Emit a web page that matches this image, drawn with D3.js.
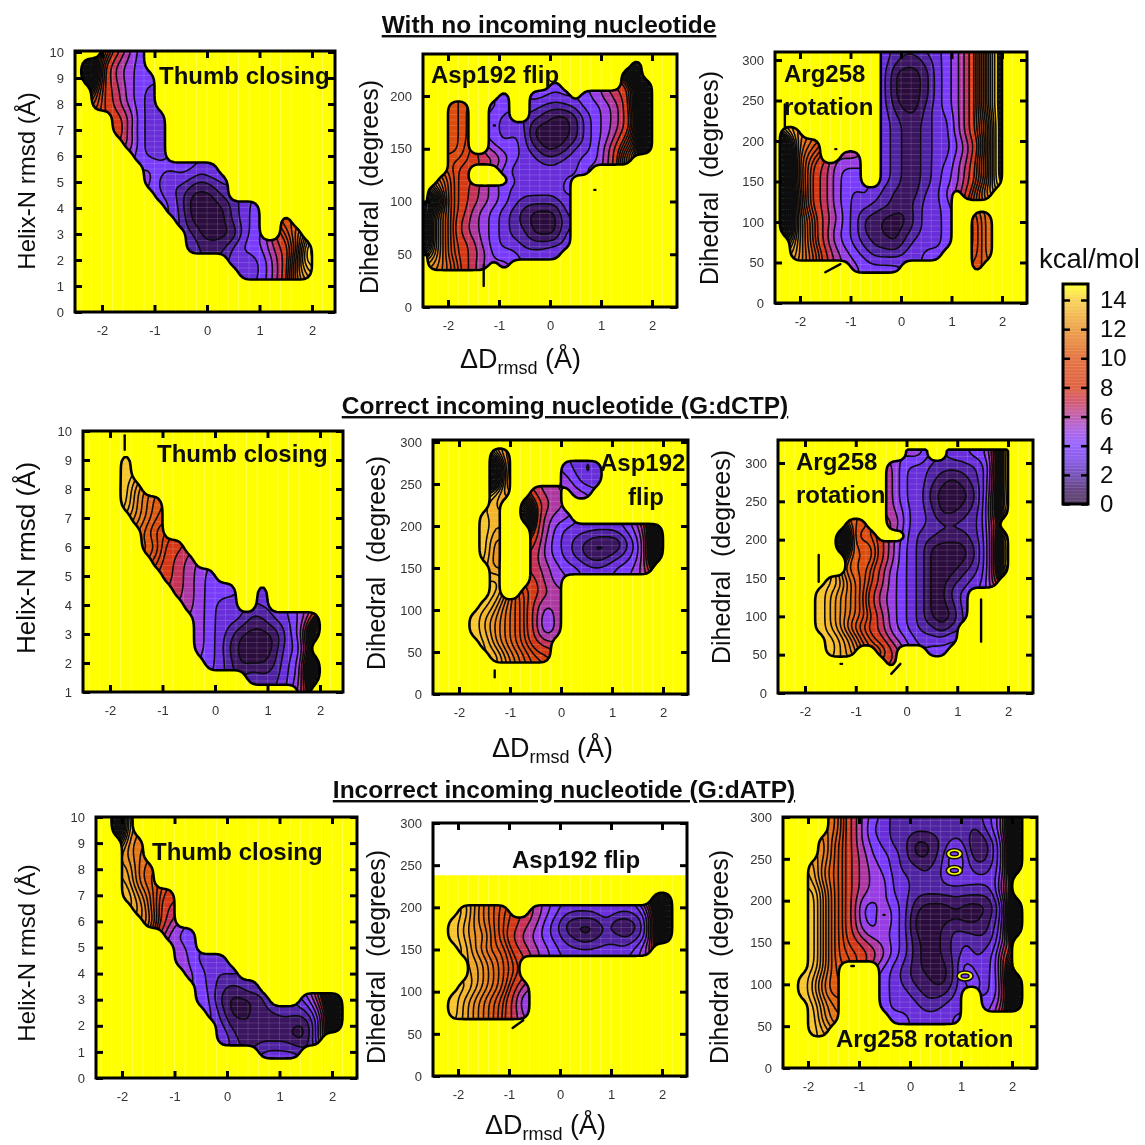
<!DOCTYPE html>
<html>
<head>
<meta charset="utf-8">
<script src="https://cdn.jsdelivr.net/npm/d3@7"></script>
<style>
  html, body { margin: 0; background: #fff; }
  text { font-family: "Liberation Sans", Arial, sans-serif; fill: #111; }
  .tick text { font-size: 13px; fill: #333; }
</style>
</head>
<body>
<script>
// free energy in kcal/mol, one string per row, top row first
// . = not sampled, 0-9 then a-f = 10-15, k = off the key (contours pile up to solid black)
// columns run from x = -2.5 in 0.2 steps
const thumbNone = ["...a864", ".kb8654", ".kb86544", "..a87543", "..a87543", "....87433", "....96433", ".....7433", "......433",
  ".......5444434", ".......53232123", "........4320002", ".........420000234", "..........30000234..a", "...........2000034..9b",
  "...........3111344578af", "...............333468bf", "................33468cd", "", "", ""];
const aspNone = ["", ".....................k", "....................ak", ".............4......8bk", "........4..4434.45678bk",
  "...a9..54..3222344568bk", "...a9..43..2100134568ak", "...a9..43330000134568ak", "...a9..43430000134579bk",
  "...a9..5443200133468ack", "...99877543322334468c", "...98...432333335", "..b98....433324", ".db987654333334",
  ".kb987654322223", "kdb986543210003", "kdb976543210002", "kdb976543220003", "kdb987543322223", ".db98764443334",
  ".cba875.5", "", "", "", ""];
const argNone = ["...........3222334579cf", "...........3211234579cf", "...........3000134579cf", "...........3000134579cf",
  "...........3000134579cf", "...........3100234579cf", "...........3211233579bf", ".dc........3211233579bf",
  ".kcba......3211233468bf", ".kca9..66..3211233569bf", ".kca87544..3211234579bf", ".kca87544..3211234579bf",
  ".kda87543432111335.8ad", ".kda87543322112334", ".kdb97643110002334..9b", ".kdb97543110012334..9b",
  "..db97543211023334..9b", "..dba865432223344...9b", "........54444.......a", "", "", ""];
const thumbCorrect = ["", "", "....e", "....e", "....ec", "....ecba", ".....cba", "......a9", "......ba88", ".......9876",
  "........87654", ".........765444..3", "..........65433..3", "...........543331133458", "...........54320000246k",
  "...........54310000335", "............4320001346k", "................322346k", ".....................7"];
const aspCorrect = ["", "......db", "......kb.....4323", "......kb.....5423", "......dc..766.55", "......d..c976", ".....ed..k8655",
  ".....ed...864333333457k", ".....ec...854321000247k", ".....ec...754321012347k", "......c...765443334457", "......e...865",
  "......e..9876", ".....edba9756", "....edcba9746", "....edcba9746", ".....ecba987", "......ecba99", "", "", ""];
const argCorrect = [".............55..33446f", "...........64332222235f", "...........64332101236f", "...........64331000136f",
  "...........64331000137f", "...........65332001237f", ".......aa..75332222237", "......ka99...322111236f",
  "......kaaa864320000136f", ".......aaa864320000136f", ".......aa9754320001236f", ".....edba9754320012337",
  "....edcba8654320023", "....edcba8654320013", "....edcba9754320003", "....edca9875432202", ".....edca986543334",
  ".....edc..a8...44", "...........7", "", ""];
const thumbWrong = ["..kc", "..kc", "...cb", "...cb", "...dba", "...dba", "...ecb98", "....db97", ".....c97", ".......544", "........54",
  "........64334", ".........54323", "..........432123", "..........5310002...46bk", "...........420011222248k",
  "............31101010038k", "............4211111004", "................3333", "", ""];
const aspWrong = ["", "......................dk", "...ecba9..754333343334bk", "..edcba987643100020013bk", "..edcca976543210122123bk",
  "...ecbaa87654333333346", "....dcba9", "....dcba9", "...edcba86", "..edcba974", "..edcba975", "", "", "", "", ""];
const argWrong = [".....b97543222222122347k", ".....b97533222222221348k", "....ca97543220012320136k", "....ca97644320013530136k",
  "...dba97654322123532236k", "...dba97655332223333338", "...eca97655332222222239", "...eca97445431000100025k",
  "...eca97446430000000126k", "...eca97545430001211136k", "...eca98765431001232237", "...eca9987643100123234a",
  "...eca....432100025334a", "..edba....4321100244349k", "..edba....43321113..348k", "...ecb....43332233..458k",
  "...ecb.....4433334", "...ed", "", "", ""];

const xTicks = [-2, -1, 0, 1, 2];
const helixTicks = [0, 1, 2, 3, 4, 5, 6, 7, 8, 9, 10];
const helixTicksFrom1 = [1, 2, 3, 4, 5, 6, 7, 8, 9, 10];
const dihedralShort = [0, 50, 100, 150, 200];
const dihedralTicks = [0, 50, 100, 150, 200, 250, 300];
const legendTicks = [0, 2, 4, 6, 8, 10, 12, 14];
const levels = [0.5, 1.5, 2.5, 3.5, 4.5, 5.5, 6.5, 7.5, 8.5, 9, 9.5, 10, 10.5, 11, 11.5, 12, 12.5, 13, 13.5, 14, 14.5, 15.5, 16.5, 17.5, 18.5, 19.5];
const colorStops = [0, 1, 2, 3, 4, 5, 6, 7, 8, 10, 12, 14, 15];
const colorValues = ["#2b0a3d", "#3c1564", "#5226a8", "#6a30e0", "#7b3cff", "#9a3ce0", "#b0389a", "#c83050", "#d83a10", "#dc4f0e", "#e88a1c", "#f8c830", "#ffff00"];

// thin leftovers in the maps, too narrow for the grid: [x, y] pairs
const straysAspNone = [[[-1.3, 40], [-1.3, 20]], [[0.87, 111], [0.89, 111]], [[-1.1, 172], [-1.08, 172]]];
const straysArgNone = [[[-1.3, 190], [-1.28, 190]], [[-1.5, 38], [-1.2, 48]], [[-2.3, 215], [-2.3, 245]]];
const straysThumbCorrect = [[[-1.72, 9.35], [-1.72, 9.85]]];
const straysAspCorrect = [[[-1.3, 20], [-1.3, 28]]];
const straysArgCorrect = [[[1.47, 122], [1.47, 67]], [[-1.73, 180], [-1.73, 145]], [[-1.3, 38], [-1.27, 38]], [[-0.3, 25], [-0.12, 38]]];
const straysAspWrong = [[[-0.93, 57], [-0.72, 66]]];
const straysArgWrong = [[[-1.15, 122], [-1.1, 122]], [[-0.52, 183], [-0.5, 183]]];
// small unsampled islands with a ring inside: [x, y]
const eyesArgWrong = [[0.87, 256], [0.87, 236], [1.08, 110]];

const panels = [
  { rows: thumbNone, top: 10, step: 0.5, yTicks: helixTicks, box: [75, 335, 51, 312], xPx: [102, 312], yVal: [0, 10], yPx: [312, 52] },
  { rows: aspNone, top: 240, step: 10, yTicks: dihedralShort, box: [423, 677, 54, 307], xPx: [448, 652], yVal: [0, 200], yPx: [307, 96], strays: straysAspNone },
  { rows: argNone, top: 315, step: 15, yTicks: dihedralTicks, box: [775, 1027, 52, 303], xPx: [800, 1002], yVal: [0, 300], yPx: [303, 60], strays: straysArgNone },
  { rows: thumbCorrect, top: 10, step: 0.5, yTicks: helixTicksFrom1, box: [83, 343, 431, 692], xPx: [110, 320], yVal: [1, 10], yPx: [692, 431], strays: straysThumbCorrect },
  { rows: aspCorrect, top: 300, step: 15, yTicks: dihedralTicks, box: [433, 688, 440, 694], xPx: [459, 663], yVal: [0, 300], yPx: [694, 442], strays: straysAspCorrect },
  { rows: argCorrect, top: 310, step: 15, yTicks: dihedralTicks, box: [778, 1033, 440, 693], xPx: [805, 1008], yVal: [0, 300], yPx: [693, 463], strays: straysArgCorrect },
  { rows: thumbWrong, top: 10, step: 0.5, yTicks: helixTicks, box: [96, 357, 817, 1078], xPx: [122, 332], yVal: [0, 10], yPx: [1078, 817] },
  { rows: aspWrong, top: 225, step: 15, yTicks: dihedralTicks, box: [433, 687, 823, 1076], xPx: [458, 662], yVal: [0, 300], yPx: [1076, 823], fillTop: 238, strays: straysAspWrong },
  { rows: argWrong, top: 300, step: 15, yTicks: dihedralTicks, box: [783, 1037, 817, 1068], xPx: [808, 1012], yVal: [0, 300], yPx: [1068, 817], strays: straysArgWrong, eyes: eyesArgWrong }
];

const titles = [
  ["With no incoming nucleotide", 549, 33],
  ["Correct incoming nucleotide (G:dCTP)", 565, 414],
  ["Incorrect incoming nucleotide (G:dATP)", 564, 798]
];
const mapLabels = [
  ["Thumb closing", 159, 84], ["Asp192 flip", 431, 83], ["Arg258", 784, 82], ["rotation", 784, 115],
  ["Thumb closing", 157, 462], ["Asp192", 600, 471], ["flip", 628, 505], ["Arg258", 796, 470], ["rotation", 796, 503],
  ["Thumb closing", 152, 860], ["Asp192 flip", 512, 868], ["Arg258 rotation", 836, 1047]
];
const yLabels = [
  ["Helix-N rmsd (Å)", 35, 181, 24], ["Helix-N rmsd (Å)", 35, 558, 26], ["Helix-N rmsd (Å)", 35, 953, 24],
  ["Dihedral  (degrees)", 378, 187, 25], ["Dihedral  (degrees)", 718, 178, 25],
  ["Dihedral  (degrees)", 385, 563, 25], ["Dihedral  (degrees)", 730, 557, 25],
  ["Dihedral  (degrees)", 385, 957, 25], ["Dihedral  (degrees)", 728, 957, 25]
];
const xLabels = [[460, 368], [492, 757], [485, 1134]];

const color = d3.scaleLinear().domain(colorStops).range(colorValues);
const bandColor = v => v >= 14.5 ? '#0a0a0a' : color(v + 0.4);

const svg = d3.select('body').append('svg')
  .attr('width', 1145)
  .attr('height', 1145)
  .style('display', 'block');

svg.append('filter').attr('id', 'soft')
  .append('feGaussianBlur').attr('stdDeviation', 0.55);

const page = svg.append('g').attr('filter', 'url(#soft)');

// unsampled cells get the mean of their neighbours so contours run on under the mask
function padField(grid, nx, ny) {
  let field = grid.slice();
  while (field.some(v => v === null)) {
    const next = field.slice();
    field.forEach((v, k) => {
      if (v !== null) return;
      const i = k % nx, j = Math.floor(k / nx), near = [];
      d3.range(-1, 2).forEach(dj => d3.range(-1, 2).forEach(di => {
        const a = i + di, b = j + dj;
        if (a >= 0 && a < nx && b >= 0 && b < ny && field[b * nx + a] !== null) near.push(field[b * nx + a]);
      }));
      if (near.length) next[k] = d3.mean(near);
    });
    field = next;
  }
  return field;
}

const fine = 4;

// finer copy of the grid for drawing only, so the contours do not come out as polygons
function refine(field, nx, ny) {
  const out = new Float64Array(nx * ny * fine * fine);
  for (let fj = 0; fj < ny * fine; fj++) {
    for (let fi = 0; fi < nx * fine; fi++) {
      const u = Math.max(0, Math.min(nx - 1, (fi + 0.5) / fine - 0.5));
      const v = Math.max(0, Math.min(ny - 1, (fj + 0.5) / fine - 0.5));
      const i = Math.min(nx - 2, Math.floor(u)), j = Math.min(ny - 2, Math.floor(v));
      const a = u - i, b = v - j;
      out[fj * nx * fine + fi] =
        (1 - a) * (1 - b) * field[j * nx + i] + a * (1 - b) * field[j * nx + i + 1] +
        (1 - a) * b * field[(j + 1) * nx + i] + a * b * field[(j + 1) * nx + i + 1];
    }
  }
  return out;
}

function refineMask(grid, nx, ny) {
  const out = new Float64Array(nx * ny * fine * fine);
  for (let fj = 0; fj < ny * fine; fj++) {
    for (let fi = 0; fi < nx * fine; fi++) {
      out[fj * nx * fine + fi] = grid[Math.floor(fj / fine) * nx + Math.floor(fi / fine)] === null ? 0 : 1;
    }
  }
  return out;
}

panels.forEach((p, idx) => {
  const [left, right, top, bottom] = p.box;
  const x = d3.scaleLinear().domain([-2, 2]).range(p.xPx);
  const y = d3.scaleLinear().domain(p.yVal).range(p.yPx);

  const nx = 26, ny = p.rows.length;
  const grid = [];
  p.rows.forEach(row => {
    d3.range(nx).forEach(i => {
      const c = row[i];
      grid.push(c === undefined || c === '.' ? null : parseInt(c, 36));
    });
  });

  const gx = d3.scaleLinear().domain([0.5, nx - 0.5]).range([x(-2.5), x(2.5)]);
  const gy = d3.scaleLinear().domain([0.5, ny - 0.5]).range([y(p.top), y(p.top - (ny - 1) * p.step)]);
  const path = d3.geoPath(d3.geoTransform({
    point(c, r) { this.stream.point(gx(c / fine), gy(r / fine)); }
  }));
  const size = [nx * fine, ny * fine];

  const g = page.append('g');

  g.append('clipPath').attr('id', 'frame' + idx)
    .append('rect').attr('x', left).attr('y', top).attr('width', right - left).attr('height', bottom - top);

  const maskData = d3.blur2({ data: refineMask(grid, nx, ny), width: size[0] }, 1.3).data;
  const mask = d3.contours().size(size).thresholds([0.5])(maskData)[0];
  g.append('clipPath').attr('id', 'mask' + idx)
    .append('path').attr('d', path(mask));

  const inFrame = g.append('g').attr('clip-path', 'url(#frame' + idx + ')');
  const fillTop = p.fillTop === undefined ? top : y(p.fillTop);

  inFrame.append('rect')
    .attr('x', left).attr('y', fillTop)
    .attr('width', right - left).attr('height', bottom - fillTop)
    .attr('fill', '#ffff00');

  // pale streaks of the plotted cells
  inFrame.selectAll('line.streak').data(d3.range(-2.4, 2.5, 0.2)).enter().append('line')
    .attr('class', 'streak')
    .attr('x1', d => x(d)).attr('x2', d => x(d))
    .attr('y1', fillTop).attr('y2', bottom)
    .attr('stroke', '#fff').attr('stroke-opacity', 0.28).attr('stroke-width', 1);

  const inMask = inFrame.append('g').attr('clip-path', 'url(#mask' + idx + ')');
  const fieldData = d3.blur2({ data: refine(padField(grid, nx, ny), nx, ny), width: size[0] }, 1.3).data;

  inMask.append('rect')
    .attr('x', left).attr('y', top)
    .attr('width', right - left).attr('height', bottom - top)
    .attr('fill', color(0));

  const bands = d3.contours().size(size).thresholds(levels)(fieldData);

  inMask.selectAll('path.band').data(bands).enter().append('path')
    .attr('class', 'band')
    .attr('d', path)
    .attr('fill', d => bandColor(d.value));

  inMask.selectAll('line.gridx').data(d3.range(-2.4, 2.5, 0.2)).enter().append('line')
    .attr('class', 'gridx')
    .attr('x1', d => x(d)).attr('x2', d => x(d))
    .attr('y1', top).attr('y2', bottom)
    .attr('stroke', '#fff').attr('stroke-opacity', 0.14);

  inMask.selectAll('line.gridy').data(d3.range(bottom, top, -5.5)).enter().append('line')
    .attr('class', 'gridy')
    .attr('x1', left).attr('x2', right)
    .attr('y1', d => d).attr('y2', d => d)
    .attr('stroke', '#fff').attr('stroke-opacity', 0.14);

  inMask.selectAll('path.line').data(bands).enter().append('path')
    .attr('class', 'line')
    .attr('d', path)
    .attr('fill', 'none')
    .attr('stroke', '#0c0a10')
    .attr('stroke-width', 1.6);

  inFrame.append('path')
    .attr('d', path(mask))
    .attr('fill', 'none')
    .attr('stroke', '#050505')
    .attr('stroke-width', 2.6)
    .attr('stroke-linejoin', 'round');

  const strayLine = d3.line().x(d => x(d[0])).y(d => y(d[1]));
  inFrame.selectAll('path.stray').data(p.strays || []).enter().append('path')
    .attr('class', 'stray')
    .attr('d', strayLine)
    .attr('fill', 'none')
    .attr('stroke', '#050505')
    .attr('stroke-width', 2.4)
    .attr('stroke-linecap', 'round');

  inFrame.selectAll('ellipse.eye').data(p.eyes || []).enter().append('ellipse')
    .attr('class', 'eye')
    .attr('cx', d => x(d[0])).attr('cy', d => y(d[1]))
    .attr('rx', 8).attr('ry', 5)
    .attr('fill', '#ffff00')
    .attr('stroke', '#0c0a10').attr('stroke-width', 1.6);
  inFrame.selectAll('ellipse.pupil').data(p.eyes || []).enter().append('ellipse')
    .attr('class', 'pupil')
    .attr('cx', d => x(d[0])).attr('cy', d => y(d[1]))
    .attr('rx', 4).attr('ry', 2)
    .attr('fill', color(4))
    .attr('stroke', '#0c0a10').attr('stroke-width', 1.4);

  // axes, ticks point inward on all four sides
  const tickLen = 7;
  const xAxis = g.append('g').attr('transform', 'translate(0,' + bottom + ')')
    .call(d3.axisBottom(x).tickValues(xTicks).tickFormat(d => String(d)).tickSizeInner(-tickLen).tickSizeOuter(0).tickPadding(14));
  const yAxis = g.append('g').attr('transform', 'translate(' + left + ',0)')
    .call(d3.axisLeft(y).tickValues(p.yTicks).tickFormat(d => String(d)).tickSizeInner(-tickLen).tickSizeOuter(0).tickPadding(11));
  const topAxis = g.append('g').attr('transform', 'translate(0,' + top + ')')
    .call(d3.axisTop(x).tickValues(xTicks).tickSizeInner(-tickLen).tickSizeOuter(0).tickFormat(''));
  const rightAxis = g.append('g').attr('transform', 'translate(' + right + ',0)')
    .call(d3.axisRight(y).tickValues(p.yTicks).tickSizeInner(-tickLen).tickSizeOuter(0).tickFormat(''));

  [xAxis, yAxis, topAxis, rightAxis].forEach(a => {
    a.select('.domain').remove();
    a.selectAll('.tick line').attr('stroke', '#050505').attr('stroke-width', 3);
  });

  g.append('rect')
    .attr('x', left).attr('y', top)
    .attr('width', right - left).attr('height', bottom - top)
    .attr('fill', 'none')
    .attr('stroke', '#050505')
    .attr('stroke-width', 3);
});

page.selectAll('text.title').data(titles).enter().append('text')
  .attr('class', 'title')
  .attr('x', d => d[1]).attr('y', d => d[2])
  .attr('text-anchor', 'middle')
  .style('font-size', '24.5px').style('font-weight', 'bold')
  .style('text-decoration', 'underline')
  .text(d => d[0]);

page.selectAll('text.map').data(mapLabels).enter().append('text')
  .attr('class', 'map')
  .attr('x', d => d[1]).attr('y', d => d[2])
  .style('font-size', '24px').style('font-weight', 'bold')
  .text(d => d[0]);

page.selectAll('text.ylab').data(yLabels).enter().append('text')
  .attr('class', 'ylab')
  .attr('transform', d => 'translate(' + d[1] + ',' + d[2] + ') rotate(-90)')
  .attr('text-anchor', 'middle')
  .style('font-size', d => d[3] + 'px')
  .style('white-space', 'pre')
  .text(d => d[0]);

const xlab = page.selectAll('text.xlab').data(xLabels).enter().append('text')
  .attr('class', 'xlab')
  .attr('x', d => d[0]).attr('y', d => d[1])
  .style('font-size', '27px');
xlab.append('tspan').text('ΔD');
xlab.append('tspan').attr('dy', 6).style('font-size', '18px').text('rmsd');
xlab.append('tspan').attr('dy', -6).text(' (Å)');

// colour key
const legendY = d3.scaleLinear().domain([0, 14]).range([504, 300]);
const legend = page.append('g');
legend.selectAll('rect.key').data(d3.range(0, 15.2, 0.1)).enter().append('rect')
  .attr('class', 'key')
  .attr('x', 1063).attr('width', 25)
  .attr('y', d => legendY(d) - 1.5).attr('height', 2)
  .attr('fill', d => color(Math.min(d, 15))).attr('fill-opacity', 0.68);
const legendLeft = legend.append('g').attr('transform', 'translate(1063,0)')
  .call(d3.axisLeft(legendY).tickValues(legendTicks).tickSizeInner(-7).tickSizeOuter(0).tickFormat(''));
const legendRight = legend.append('g').attr('transform', 'translate(1088,0)')
  .call(d3.axisRight(legendY).tickValues(legendTicks).tickFormat(d => String(d)).tickSizeInner(-7).tickSizeOuter(0).tickPadding(12));
[legendLeft, legendRight].forEach(a => {
  a.select('.domain').remove();
  a.selectAll('.tick line').attr('stroke', '#050505').attr('stroke-width', 2.5);
});
legendRight.selectAll('.tick text').style('font-size', '24px').style('fill', '#111');
legend.append('rect')
  .attr('x', 1063).attr('y', 284).attr('width', 25).attr('height', 220)
  .attr('fill', 'none').attr('stroke', '#050505').attr('stroke-width', 3);
legend.append('text')
  .attr('x', 1039).attr('y', 268)
  .style('font-size', '27.5px')
  .text('kcal/mol');
</script>
</body>
</html>
